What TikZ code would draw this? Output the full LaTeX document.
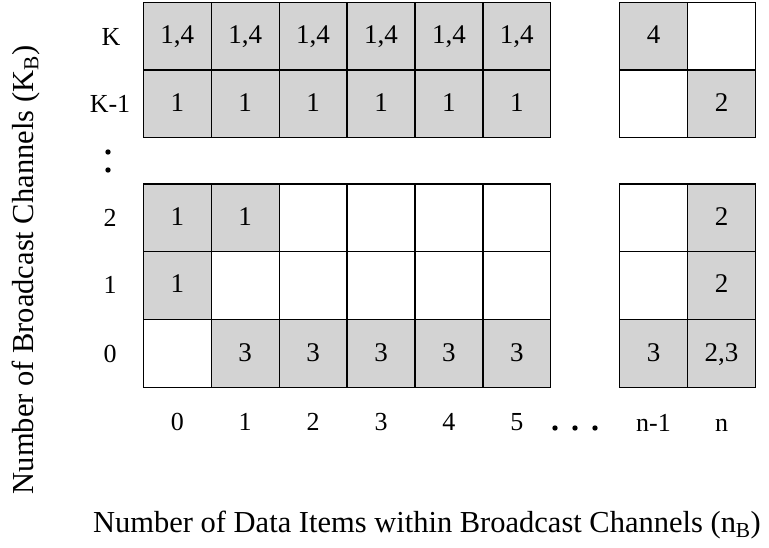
\documentclass[tikz,border=0pt]{standalone}
\usepackage{fontspec}
\setmainfont{Liberation Serif}
\definecolor{cellgray}{RGB}{211,211,211}
\begin{document}
\begin{tikzpicture}[x=1pt,y=-1pt,
  cell/.style={draw=black, line width=1.3pt, minimum width=67.9pt, minimum height=67.6pt,
    inner sep=0pt, text height=15pt, text depth=0pt, font=\fontsize{27}{31}\selectfont},
  on/.style={cell, fill=cellgray},
  off/.style={cell, fill=white},
  lbl/.style={font=\fontsize{26}{30}\selectfont, inner sep=0pt},
  axislbl/.style={font=\fontsize{30.5}{34}\selectfont, inner sep=0pt, anchor=base},
  dotmark/.style={fill=black, draw=none}]
\useasboundingbox (0,0) rectangle (769,548);

% upper block: rows K and K-1
\node[on]  (k-0) at (177.3,36.5) {1,4};
\node[on]  (k-1) at (245.2,36.5) {1,4};
\node[on]  (k-2) at (313.1,36.5) {1,4};
\node[on]  (k-3) at (381.0,36.5) {1,4};
\node[on]  (k-4) at (448.9,36.5) {1,4};
\node[on]  (k-5) at (516.8,36.5) {1,4};
\node[on]  (k-m) at (653.5,36.5) {4};
\node[off] (k-n) at (721.5,36.5) {};

\node[on]  (km-0) at (177.3,103.8) {1};
\node[on]  (km-1) at (245.2,103.8) {1};
\node[on]  (km-2) at (313.1,103.8) {1};
\node[on]  (km-3) at (381.0,103.8) {1};
\node[on]  (km-4) at (448.9,103.8) {1};
\node[on]  (km-5) at (516.8,103.8) {1};
\node[off] (km-m) at (653.5,103.8) {};
\node[on]  (km-n) at (721.5,103.8) {2};

% lower block: rows 2, 1, 0
\node[on]  (r2-0) at (177.3,217.9) {1};
\node[on]  (r2-1) at (245.2,217.9) {1};
\node[off] (r2-2) at (313.1,217.9) {};
\node[off] (r2-3) at (381.0,217.9) {};
\node[off] (r2-4) at (448.9,217.9) {};
\node[off] (r2-5) at (516.8,217.9) {};
\node[off] (r2-m) at (653.5,217.9) {};
\node[on]  (r2-n) at (721.5,217.9) {2};

\node[on]  (r1-0) at (177.3,285.4) {1};
\node[off] (r1-1) at (245.2,285.4) {};
\node[off] (r1-2) at (313.1,285.4) {};
\node[off] (r1-3) at (381.0,285.4) {};
\node[off] (r1-4) at (448.9,285.4) {};
\node[off] (r1-5) at (516.8,285.4) {};
\node[off] (r1-m) at (653.5,285.4) {};
\node[on]  (r1-n) at (721.5,285.4) {2};

\node[off] (r0-0) at (177.3,353.6) {};
\node[on]  (r0-1) at (245.2,353.6) {3};
\node[on]  (r0-2) at (313.1,353.6) {3};
\node[on]  (r0-3) at (381.0,353.6) {3};
\node[on]  (r0-4) at (448.9,353.6) {3};
\node[on]  (r0-5) at (516.8,353.6) {3};
\node[on]  (r0-m) at (653.5,353.6) {3};
\node[on]  (r0-n) at (721.5,353.6) {2,3};

% row labels
\node[lbl] (rl-k)  at (111,36.5)  {K};
\node[lbl] (rl-km) at (110,103.8) {K-1};
\node[lbl] (rl-2)  at (110,217.9) {2};
\node[lbl] (rl-1)  at (110,285.4) {1};
\node[lbl] (rl-0)  at (110,353.6) {0};
\fill[dotmark] (108,152) circle (2.7);
\fill[dotmark] (108,170) circle (2.7);

% column labels
\node[lbl] (cl-0) at (177.3,422) {0};
\node[lbl] (cl-1) at (245.2,422) {1};
\node[lbl] (cl-2) at (313.1,422) {2};
\node[lbl] (cl-3) at (381.0,422) {3};
\node[lbl] (cl-4) at (448.9,422) {4};
\node[lbl] (cl-5) at (516.8,422) {5};
\node[lbl, anchor=base] (cl-m) at (653.5,431) {n-1};
\node[lbl, anchor=base] (cl-n) at (721.5,431) {n};
\fill[dotmark] (555,428) circle (2.7);
\fill[dotmark] (575,428) circle (2.7);
\fill[dotmark] (595,428) circle (2.7);

% axis titles
\node[axislbl, rotate=90] (ytitle) at (33,270)
  {Number of Broadcast Channels (K$_{\mathrm{B}}$)};
\node[axislbl] (xtitle) at (427,532)
  {Number of Data Items within Broadcast Channels (n$_{\mathrm{B}}$)};
\end{tikzpicture}
\end{document}
